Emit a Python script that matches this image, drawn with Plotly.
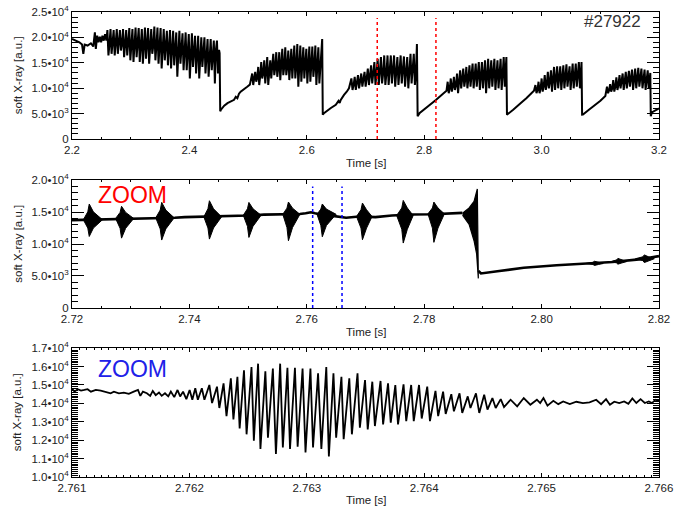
import numpy as np
import plotly.graph_objects as go

FONT = "Liberation Sans, Arial, Helvetica, sans-serif"

# ---------------- axis ticks / labels ----------------
P1_X_TICKS = [2.2, 2.4, 2.6, 2.8, 3.0, 3.2]
P1_X_LABELS = ["2.2", "2.4", "2.6", "2.8", "3.0", "3.2"]
P1_Y_TICKS = [0, 5000, 10000, 15000, 20000, 25000]
P1_Y_LABELS = ["0", "5.0•10<sup>3</sup>", "1.0•10<sup>4</sup>", "1.5•10<sup>4</sup>",
               "2.0•10<sup>4</sup>", "2.5•10<sup>4</sup>"]
P2_X_TICKS = [2.72, 2.74, 2.76, 2.78, 2.80, 2.82]
P2_X_LABELS = ["2.72", "2.74", "2.76", "2.78", "2.80", "2.82"]
P2_Y_TICKS = [0, 5000, 10000, 15000, 20000]
P2_Y_LABELS = ["0", "5.0•10<sup>3</sup>", "1.0•10<sup>4</sup>", "1.5•10<sup>4</sup>",
               "2.0•10<sup>4</sup>"]
P3_X_TICKS = [2.761, 2.762, 2.763, 2.764, 2.765, 2.766]
P3_X_LABELS = ["2.761", "2.762", "2.763", "2.764", "2.765", "2.766"]
P3_Y_TICKS = [10000, 11000, 12000, 13000, 14000, 15000, 16000, 17000]
P3_Y_LABELS = ["1.0•10<sup>4</sup>", "1.1•10<sup>4</sup>", "1.2•10<sup>4</sup>",
               "1.3•10<sup>4</sup>", "1.4•10<sup>4</sup>", "1.5•10<sup>4</sup>",
               "1.6•10<sup>4</sup>", "1.7•10<sup>4</sup>"]

# ---------------- panel 1 : 2.2 - 3.2 s ----------------
A_PRE_T = [2.2000, 2.2070, 2.2126, 2.2171, 2.2193, 2.2216, 2.2266, 2.2322, 2.2362, 2.2390,
           2.2406, 2.2429, 2.2451, 2.2474, 2.2496, 2.2518, 2.2541, 2.2563, 2.2586]
A_PRE_V = [19680, 19360, 19040, 18580, 16770, 18580, 18390, 18840, 18200, 20980,
           17740, 20330, 19040, 20140, 19040, 20330, 19360, 20650, 19360]

OSC_A_SPAN = [2.2603, 2.4505]
OSC_A_TOP = [21430, 21630, 21430, 21630, 21430, 21630, 21430, 21820, 21630, 21950,
             21820, 21630, 21950, 21820, 21630, 22140, 21950, 21820, 21630, 21300,
             21430, 21300, 20980, 21300, 20790, 20980, 20660, 20790, 20330, 20330,
             20000, 20000, 19680, 19680, 19360, 19360]
OSC_A_BOT = [16450, 16770, 16450, 16770, 17420, 16120, 16450, 15480, 15150, 16120,
             15150, 14830, 15800, 14830, 16770, 15480, 14830, 13860, 15480, 14500,
             13860, 14500, 12240, 14830, 13530, 13530, 11910, 14180, 12890, 11910,
             14180, 12890, 12240, 13530, 10940, 12890]
OSC_A_MID = [18710, 18710, 18710, 18710, 18710, 18710, 18710, 18710, 18710, 18710,
             18390, 18390, 18390, 18390, 18390, 18390, 18390, 18390, 18390, 18390,
             18070, 18070, 18070, 18070, 18070, 18070, 18070, 18070, 17550, 17550,
             17550, 17550, 17550, 17550, 17550, 17550]
CRASH_A_T = [2.4515, 2.4525]
CRASH_A_V = [16900, 5440]

RAMP_B_T = [2.4535, 2.4593, 2.4649, 2.4761, 2.4790, 2.4817, 2.4845, 2.4873, 2.4930, 2.4985, 2.5030]
RAMP_B_V = [5700, 6540, 7060, 7700, 8300, 8000, 8900, 9320, 9900, 10290, 10700]
OSC_B_SPAN = [2.5070, 2.6231]
OSC_B_TOP = [12890, 13210, 14180, 15150, 15480, 16120, 15480, 16770, 17090, 17090,
             17740, 18070, 17420, 17740, 18390, 18710, 18390, 18070, 17740, 18200,
             18200, 18390, 18070]
OSC_B_BOT = [10620, 11270, 10620, 11910, 10940, 10620, 11910, 12560, 12240, 11590,
             12560, 12560, 11590, 11910, 11910, 10300, 11270, 11910, 10940, 11270,
             12240, 10620, 10940]
OSC_B_MID = [11600, 12000, 12400, 12900, 13300, 13600, 13800, 14000, 14000, 14200,
             14200, 14200, 14300, 14300, 14300, 14300, 14300, 14300, 14300, 14400,
             14400, 14400, 14400]
CRASH_B_T = [2.6262, 2.6272]
CRASH_B_V = [19680, 4790]

RAMP_C_T = [2.6298, 2.6410, 2.6494, 2.6540, 2.6560, 2.6578, 2.6610, 2.6634, 2.6680, 2.6718]
RAMP_C_V = [5120, 6090, 6730, 7500, 7100, 7700, 8400, 8680, 9300, 9970]
OSC_C_SPAN = [2.6760, 2.7860]
OSC_C_TOP = [11910, 12240, 12560, 12890, 13210, 13860, 14500, 15150, 15800, 16120,
             16450, 16450, 16450, 16450, 16120, 16450, 16250, 16120, 16770, 16770]
OSC_C_BOT = [9650, 9650, 9970, 10300, 10300, 10620, 10940, 10620, 10620, 10940,
             10620, 10620, 10940, 10300, 10620, 10940, 10300, 9970, 10940, 10620]
OSC_C_MID = [10620, 10940, 11270, 11590, 11910, 12240, 12560, 12890, 12890, 12890,
             12890, 12890, 13010, 13010, 13010, 13140, 13140, 13140, 13210, 13210]
CRASH_C_T = [2.7876, 2.7888]
CRASH_C_V = [18710, 4470]

RAMP_D_T = [2.7924, 2.8036, 2.8148, 2.8204, 2.8316, 2.8380]
RAMP_D_V = [5120, 6090, 7060, 7700, 8870, 9500]
OSC_D_SPAN = [2.8400, 2.9390]
OSC_D_TOP = [11270, 11910, 12240, 12890, 13530, 13860, 14180, 14500, 14830, 14830,
             15150, 15150, 15480, 15800, 15480, 15800, 15480, 15800, 16120]
OSC_D_BOT = [9000, 9320, 9650, 9000, 9970, 10300, 9970, 10300, 9970, 10300,
             9650, 9970, 9000, 9970, 10300, 9650, 9970, 9650, 10300]
OSC_D_MID = [9970, 10300, 10620, 11070, 11590, 11720, 11910, 12110, 12240, 12370,
             12500, 12560, 12560, 12690, 12690, 12760, 12760, 12890, 12890]
CRASH_D_T = [2.9400, 2.9410]
CRASH_D_V = [16120, 4790]

RAMP_E_T = [2.9425, 2.9516, 2.9600, 2.9656, 2.9740, 2.9825, 2.9870]
RAMP_E_V = [4900, 5760, 6730, 7190, 8030, 9000, 9500]
OSC_E_SPAN = [2.9895, 3.0670]
OSC_E_TOP = [10620, 11270, 11910, 12560, 13210, 13530, 14180, 14310, 14310, 14500,
             14700, 14310, 14830, 14830, 15150]
OSC_E_BOT = [9000, 9000, 9320, 9650, 9970, 9320, 9650, 9970, 9650, 9970,
             10300, 9650, 9970, 10300, 9970]
OSC_E_MID = [9650, 9970, 10420, 10810, 11270, 11590, 11910, 12110, 12240, 12240,
             12370, 12370, 12500, 12560, 12560]
CRASH_E_T = [3.0680, 3.0690]
CRASH_E_V = [15150, 4790]

RAMP_F_T = [3.0705, 3.0806, 3.0918, 3.1002, 3.1086]
RAMP_F_V = [4800, 5760, 6730, 7510, 8480]
OSC_F_SPAN = [3.1114, 3.1843]
OSC_F_TOP = [10300, 10810, 11590, 12110, 12560, 12890, 13210, 13400, 13660, 13860,
             13990, 13860, 13660, 13530]
OSC_F_BOT = [9000, 9320, 9320, 9650, 9970, 9650, 9970, 10300, 9650, 9970,
             10300, 9970, 9650, 9970]
OSC_F_MID = [9520, 9910, 10300, 10680, 11070, 11330, 11590, 11780, 11910, 12040,
             12110, 12110, 12110, 12110]
CRASH_F_T = [3.1852, 3.1860, 3.1878, 3.1962, 3.2000]
CRASH_F_V = [13000, 4470, 5240, 5760, 6000]

RED_T = [2.72, 2.82]
RED_Y = [0, 23800]

# ---------------- panel 2 : 2.72 - 2.82 s ----------------
BASE2_T = [2.7200, 2.7213, 2.7235, 2.7255, 2.7285, 2.7308, 2.7345, 2.7375, 2.7392, 2.7420,
           2.7450, 2.7470, 2.7500, 2.7527, 2.7555, 2.7588, 2.7598, 2.7607, 2.7614, 2.7622,
           2.7644, 2.7667, 2.7689, 2.7717, 2.7745, 2.7779, 2.7815, 2.7829, 2.7865]
BASE2_V = [13740, 13760, 13800, 13900, 13950, 13980, 14050, 14100, 14200, 14250,
           14300, 14360, 14450, 14600, 14620, 14700, 14800, 14970, 14800, 14650,
           14400, 14110, 14300, 14200, 14460, 14620, 14650, 14720, 14870]
BIG_T = [2.78653, 2.78765, 2.78849, 2.78905, 2.78922, 2.78893, 2.78849, 2.78765, 2.78653]
BIG_V = [14800, 15640, 16670, 18620, 4620, 8460, 10510, 13080, 14500]
POST2_T = [2.78925, 2.78967, 2.79247, 2.79696, 2.80256, 2.80817, 2.81209, 2.81659, 2.82000]
POST2_V = [5800, 5390, 5740, 6280, 6670, 6920, 7180, 7590, 8100]

# bursts: start, rise-shoulder, peak, fall-shoulder, end times and envelope values
BURST_T0 = [2.72193, 2.72743, 2.73427, 2.74246, 2.74918, 2.75591, 2.76174, 2.76847,
            2.77531, 2.78064, 2.80750, 2.81180, 2.81600]
BURST_TR = [2.72269, 2.72819, 2.73503, 2.74316, 2.74989, 2.75662, 2.76239, 2.76923,
            2.77618, 2.78140, 2.80875, 2.81275, 2.81725]
BURST_TP = [2.72294, 2.72844, 2.73528, 2.74341, 2.75014, 2.75687, 2.76264, 2.76948,
            2.77643, 2.78165, 2.80900, 2.81300, 2.81750]
BURST_TF = [2.72364, 2.72914, 2.73598, 2.74411, 2.75084, 2.75757, 2.76334, 2.77018,
            2.77713, 2.78235, 2.80970, 2.81370, 2.81820]
BURST_T1 = [2.72519, 2.73051, 2.73741, 2.74548, 2.75221, 2.75883, 2.76499, 2.77111,
            2.77812, 2.78344, 2.81050, 2.81450, 2.81920]
BURST_TOP = [16260, 15900, 16510, 16770, 16510, 16570, 16260, 16410,
             16820, 16560, 7300, 7750, 8300]
BURST_TOP_H = [15030, 14950, 15310, 15510, 15510, 15610, 15460, 15360,
               15640, 15640, 7130, 7500, 8000]
BURST_BOT = [11180, 10920, 10620, 10770, 11030, 10510, 11130, 10670,
             10150, 10260, 6650, 6850, 7100]
BURST_BOT_H = [12490, 12460, 12360, 12510, 12770, 12580, 12890, 12490,
               12310, 12490, 6800, 7050, 7400]
BURST_BASE = [13800, 14000, 14100, 14250, 14500, 14650, 14650, 14300,
              14460, 14720, 6950, 7250, 7700]

BLUE_T = [2.761, 2.766]
BLUE_Y = [0, 19000]

# ---------------- panel 3 : 2.761 - 2.766 s ----------------
P3_T = [2.761000, 2.761021, 2.761049, 2.761077, 2.761105, 2.761133, 2.761161, 2.761203,
        2.761245, 2.761287, 2.761329, 2.761357, 2.761399, 2.761442, 2.761484, 2.761526,
        2.761562, 2.761582, 2.761604, 2.761638, 2.761666, 2.761688, 2.761713, 2.761741,
        2.761764, 2.761792, 2.761820, 2.761842, 2.761871, 2.761899, 2.761921, 2.761946,
        2.761974, 2.762002, 2.762025, 2.762050, 2.762072,
        2.762106, 2.762128, 2.762170, 2.762193, 2.762235, 2.762255, 2.762291, 2.762316,
        2.762353, 2.762375, 2.762409, 2.762428, 2.762465, 2.762487, 2.762529, 2.762549,
        2.762585, 2.762605, 2.762647, 2.762669, 2.762711, 2.762737, 2.762773, 2.762796,
        2.762835, 2.762857, 2.762899, 2.762922, 2.762964, 2.762989, 2.763031, 2.763053,
        2.763096, 2.763124, 2.763166, 2.763188, 2.763227, 2.763250, 2.763295, 2.763314,
        2.763362, 2.763384, 2.763432, 2.763452, 2.763496, 2.763519, 2.763558, 2.763580,
        2.763628, 2.763650, 2.763692, 2.763715, 2.763754, 2.763777, 2.763824, 2.763847,
        2.763889, 2.763911, 2.763956, 2.763979, 2.764026, 2.764049, 2.764096, 2.764119,
        2.764161, 2.764183, 2.764231, 2.764253, 2.764301, 2.764324, 2.764371, 2.764394,
        2.764441, 2.764469, 2.764511, 2.764539, 2.764581,
        2.764609, 2.764652, 2.764680, 2.764736, 2.764792, 2.764848, 2.764904, 2.764960,
        2.764988, 2.765016, 2.765050, 2.765100, 2.765142, 2.765184, 2.765240, 2.765296,
        2.765352, 2.765408, 2.765465, 2.765507, 2.765549, 2.765582, 2.765619, 2.765661,
        2.765703, 2.765739, 2.765773, 2.765807, 2.765843, 2.765879, 2.765913, 2.765941,
        2.765969, 2.766000]
P3_V = [14800, 14640, 14770, 14700, 14730, 14770, 14640, 14730,
        14700, 14640, 14550, 14640, 14550, 14590, 14520, 14640,
        14730, 14410, 14640, 14550, 14410, 14680, 14450, 14590,
        14410, 14550, 14380, 14640, 14340, 14730, 14380, 14640,
        14230, 14730, 14200, 14820, 14200,
        14820, 14200, 15000, 14020, 14910, 13750, 15090, 13310,
        15360, 13130, 15450, 12640, 15800, 12320, 15980, 11970,
        16160, 11520, 15750, 12140, 15890, 11250, 16160, 11610,
        15930, 11520, 15930, 11650, 15890, 11340, 15890, 11610,
        15630, 11520, 15980, 11110, 15630, 12140, 15450, 12060,
        15360, 12320, 15630, 12680, 15270, 12590, 15180, 12770,
        15220, 12860, 15090, 12950, 15000, 12860, 15040, 13040,
        15000, 13040, 15000, 13180, 14910, 13040, 14680, 13310,
        14640, 13430, 14500, 13570, 14550, 13480, 14380, 13750,
        14550, 13480, 14470, 13660, 14290,
        13750, 14230, 13800, 14200, 13840, 14290, 13930, 14200,
        14020, 14290, 13880, 14140, 13960, 14110, 13960, 14090,
        14020, 14060, 14200, 13960, 14230, 13930, 14090, 14020,
        14110, 13980, 14270, 14020, 14230, 14020, 14110, 14020,
        14200, 14130]


# ---------------- build panel-1 signal ----------------
def osc(span, tops, bots, mids):
    t = np.linspace(span[0], span[1], 3 * len(tops))
    v = np.column_stack([tops, bots, mids]).ravel()
    return list(t), list(v)


pieces = [
    (A_PRE_T, A_PRE_V), osc(OSC_A_SPAN, OSC_A_TOP, OSC_A_BOT, OSC_A_MID), (CRASH_A_T, CRASH_A_V),
    (RAMP_B_T, RAMP_B_V), osc(OSC_B_SPAN, OSC_B_TOP, OSC_B_BOT, OSC_B_MID), (CRASH_B_T, CRASH_B_V),
    (RAMP_C_T, RAMP_C_V), osc(OSC_C_SPAN, OSC_C_TOP, OSC_C_BOT, OSC_C_MID), (CRASH_C_T, CRASH_C_V),
    (RAMP_D_T, RAMP_D_V), osc(OSC_D_SPAN, OSC_D_TOP, OSC_D_BOT, OSC_D_MID), (CRASH_D_T, CRASH_D_V),
    (RAMP_E_T, RAMP_E_V), osc(OSC_E_SPAN, OSC_E_TOP, OSC_E_BOT, OSC_E_MID), (CRASH_E_T, CRASH_E_V),
    (RAMP_F_T, RAMP_F_V), osc(OSC_F_SPAN, OSC_F_TOP, OSC_F_BOT, OSC_F_MID), (CRASH_F_T, CRASH_F_V),
]
T1, V1 = [], []
for tt, vv in pieces:
    T1 += list(tt)
    V1 += list(vv)

# bursts of panel 2 as filled spindle polygons
BX, BY = [], []
for i in range(len(BURST_T0)):
    BX += [BURST_T0[i], BURST_TR[i], BURST_TP[i], BURST_TF[i], BURST_T1[i],
           BURST_TF[i], BURST_TP[i], BURST_TR[i], BURST_T0[i], None]
    BY += [BURST_BASE[i], BURST_TOP_H[i], BURST_TOP[i], BURST_TOP_H[i], BURST_BASE[i],
           BURST_BOT_H[i], BURST_BOT[i], BURST_BOT_H[i], BURST_BASE[i], None]

fig = go.Figure()
# panel 1
fig.add_trace(go.Scatter(x=T1, y=V1, mode="lines", line=dict(color="black", width=2),
                         xaxis="x", yaxis="y", hoverinfo="skip"))
for t in RED_T:
    fig.add_trace(go.Scatter(x=[t, t], y=RED_Y, mode="lines",
                             line=dict(color="red", width=1.5, dash="3px,3px"),
                             xaxis="x", yaxis="y", hoverinfo="skip"))
# panel 2
fig.add_trace(go.Scatter(x=BASE2_T, y=BASE2_V, mode="lines", line=dict(color="black", width=2.6),
                         xaxis="x2", yaxis="y2", hoverinfo="skip"))
fig.add_trace(go.Scatter(x=BX, y=BY, mode="lines", fill="toself", fillcolor="black",
                         line=dict(color="black", width=1), xaxis="x2", yaxis="y2", hoverinfo="skip"))
fig.add_trace(go.Scatter(x=BIG_T, y=BIG_V, mode="lines", fill="toself", fillcolor="black",
                         line=dict(color="black", width=1.2), xaxis="x2", yaxis="y2", hoverinfo="skip"))
fig.add_trace(go.Scatter(x=POST2_T, y=POST2_V, mode="lines", line=dict(color="black", width=2.6),
                         xaxis="x2", yaxis="y2", hoverinfo="skip"))
for t in BLUE_T:
    fig.add_trace(go.Scatter(x=[t, t], y=BLUE_Y, mode="lines",
                             line=dict(color="blue", width=1.5, dash="3px,3px"),
                             xaxis="x2", yaxis="y2", hoverinfo="skip"))
# panel 3
fig.add_trace(go.Scatter(x=P3_T, y=P3_V, mode="lines", line=dict(color="black", width=1.8),
                         xaxis="x3", yaxis="y3", hoverinfo="skip"))

TICKFONT = dict(family=FONT, size=11.5, color="#222")


def xax(rng, tv, tt, minor_dt, anchor):
    return dict(range=rng, tickmode="array", tickvals=tv, ticktext=tt, anchor=anchor,
                domain=[0, 1], showline=True, linecolor="black", linewidth=1, mirror="ticks",
                ticks="inside", ticklen=4, tickcolor="black", tickwidth=1, showgrid=False,
                zeroline=False, tickfont=TICKFONT,
                minor=dict(ticks="inside", ticklen=2, tickcolor="black", tick0=rng[0],
                           dtick=minor_dt, showgrid=False))


def yax(rng, tv, tt, minor_dt, anchor, dom):
    return dict(range=rng, tickmode="array", tickvals=tv, ticktext=tt, anchor=anchor,
                domain=dom, showline=True, linecolor="black", linewidth=1, mirror="ticks",
                ticks="inside", ticklen=12, tickcolor="black", tickwidth=1, showgrid=False,
                zeroline=False, tickfont=TICKFONT,
                minor=dict(ticks="inside", ticklen=6, tickcolor="black", tick0=rng[0],
                           dtick=minor_dt, showgrid=False))


fig.update_layout(
    width=677, height=510, showlegend=False,
    paper_bgcolor="white", plot_bgcolor="white",
    margin=dict(l=72, r=10, t=4, b=33),
    xaxis=xax([2.2, 3.2], P1_X_TICKS, P1_X_LABELS, 0.05, "y"),
    yaxis=yax([0, 25000], P1_Y_TICKS, P1_Y_LABELS, 1000, "x", [0.727, 1.0]),
    xaxis2=xax([2.72, 2.82], P2_X_TICKS, P2_X_LABELS, 0.005, "y2"),
    yaxis2=yax([0, 20000], P2_Y_TICKS, P2_Y_LABELS, 1000, "x2", [0.3636, 0.6385]),
    xaxis3=xax([2.761, 2.766], P3_X_TICKS, P3_X_LABELS, 0.0000625, "y3"),
    yaxis3=yax([10000, 17000], P3_Y_TICKS, P3_Y_LABELS, 100, "x3", [0.0, 0.277]),
)

ann = []
for yy in [0.8632, 0.5011, 0.1389]:
    ann.append(dict(text="soft X-ray [a.u.]", x=-0.0924, y=yy, xref="paper", yref="paper",
                    textangle=-90, showarrow=False, xanchor="center", yanchor="middle",
                    font=dict(family=FONT, size=11.5, color="#222")))
for yy in [0.6744, 0.3129, -0.0486]:
    ann.append(dict(text="Time [s]", x=0.5, y=yy, xref="paper", yref="paper",
                    showarrow=False, xanchor="center", yanchor="middle",
                    font=dict(family=FONT, size=11.5, color="#222")))
ann.append(dict(text="#27922", x=0.9731, y=0.9803, xref="paper", yref="paper", showarrow=False,
                xanchor="right", yanchor="middle", font=dict(family=FONT, size=17, color="#333")))
ann.append(dict(text="ZOOM", x=0.0415, y=0.6068, xref="paper", yref="paper", showarrow=False,
                xanchor="left", yanchor="middle", font=dict(family=FONT, size=23, color="red")))
ann.append(dict(text="ZOOM", x=0.0415, y=0.2332, xref="paper", yref="paper", showarrow=False,
                xanchor="left", yanchor="middle", font=dict(family=FONT, size=23, color="#2020e8")))
fig.update_layout(annotations=ann)

fig.write_html("out.html", config={"displayModeBar": False, "staticPlot": True},
               post_script="document.body.style.margin='0px';document.body.style.overflow='hidden';")
